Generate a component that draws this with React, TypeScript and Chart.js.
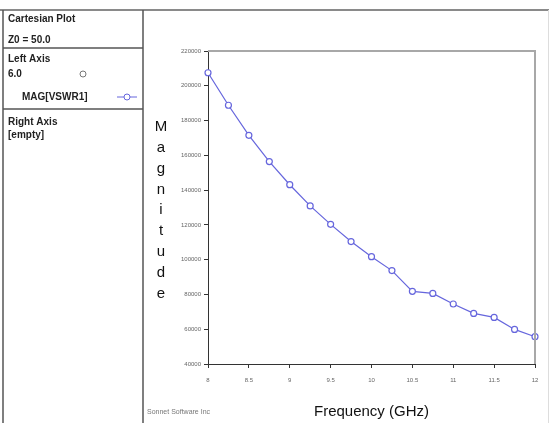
import React, { useEffect, useRef } from "react";
import { Chart, registerables } from "chart.js";

Chart.register(...registerables);

const frequencies = [8, 8.25, 8.5, 8.75, 9, 9.25, 9.5, 9.75, 10, 10.25, 10.5, 10.75, 11, 11.25, 11.5, 11.75, 12];
const magnitudes = [207500, 188800, 171500, 156400, 143100, 130900, 120300, 110400, 101700, 93700, 81800, 80600, 74500, 69100, 66800, 59900, 55700];
const yTicks = [40000, 60000, 80000, 100000, 120000, 140000, 160000, 180000, 200000, 220000];
const xTicks = [8, 8.5, 9, 9.5, 10, 10.5, 11, 11.5, 12];
const seriesName = "MAG[VSWR1]";
const yTitle = "Magnitude";
const xTitle = "Frequency (GHz)";

const LINE = "#6666dd";

const framePlugin = {
  id: "sonnetFrame",
  beforeDraw(chart: any) {
    const ctx = chart.ctx;
    ctx.save();
    ctx.fillStyle = "#ffffff";
    ctx.fillRect(0, 0, chart.width, chart.height);
    ctx.restore();
  },
  afterDraw(chart: any) {
    const ctx = chart.ctx;
    const a = chart.chartArea;
    ctx.save();
    ctx.strokeStyle = "#8a8a8a";
    ctx.lineWidth = 2;
    ctx.beginPath();
    ctx.moveTo(0, 10);
    ctx.lineTo(549, 10);
    ctx.stroke();
    ctx.lineWidth = 1.5;
    ctx.strokeStyle = "#555";
    ctx.beginPath();
    ctx.moveTo(3, 10);
    ctx.lineTo(3, 423);
    ctx.moveTo(143, 10);
    ctx.lineTo(143, 423);
    ctx.moveTo(3, 48);
    ctx.lineTo(143, 48);
    ctx.moveTo(3, 109);
    ctx.lineTo(143, 109);
    ctx.stroke();
    ctx.strokeStyle = "#dddddd";
    ctx.lineWidth = 1;
    ctx.beginPath();
    ctx.moveTo(548.5, 10);
    ctx.lineTo(548.5, 423);
    ctx.stroke();

    ctx.strokeStyle = "#a8a8a8";
    ctx.lineWidth = 2;
    ctx.beginPath();
    ctx.moveTo(a.left, a.top);
    ctx.lineTo(a.right, a.top);
    ctx.lineTo(a.right, a.bottom);
    ctx.stroke();

    ctx.fillStyle = "#222";
    ctx.textBaseline = "middle";
    ctx.textAlign = "left";
    ctx.font = "bold 10px 'Liberation Sans', Arial, sans-serif";
    ctx.fillText("Cartesian Plot", 8, 19);
    ctx.fillText("Z0 = 50.0", 8, 40);
    ctx.fillText("Left Axis", 8, 59);
    ctx.fillText("6.0", 8, 74);
    ctx.fillText(seriesName, 22, 97);
    ctx.fillText("Right Axis", 8, 122);
    ctx.fillText("[empty]", 8, 135);

    ctx.strokeStyle = "#777";
    ctx.lineWidth = 1;
    ctx.beginPath();
    ctx.arc(83, 74, 3, 0, Math.PI * 2);
    ctx.stroke();

    ctx.strokeStyle = LINE;
    ctx.beginPath();
    ctx.moveTo(117, 97);
    ctx.lineTo(124, 97);
    ctx.moveTo(130, 97);
    ctx.lineTo(137, 97);
    ctx.stroke();
    ctx.beginPath();
    ctx.arc(127, 97, 3, 0, Math.PI * 2);
    ctx.stroke();

    ctx.fillStyle = "#111";
    ctx.textAlign = "center";
    ctx.font = "15px 'Liberation Sans', Arial, sans-serif";
    const letters = yTitle.split("");
    letters.forEach((ch, i) => {
      ctx.fillText(ch, 161, 127 + i * 20.8);
    });
    ctx.fillText(xTitle, (a.left + a.right) / 2, 412);

    ctx.fillStyle = "#777";
    ctx.textAlign = "left";
    ctx.font = "7px 'Liberation Sans', Arial, sans-serif";
    ctx.fillText("Sonnet Software Inc", 147, 412);
    ctx.restore();
  },
};

export default function App() {
  const ref = useRef<HTMLCanvasElement | null>(null);
  useEffect(() => {
    document.body.style.margin = "0";
    const canvas = ref.current;
    if (!canvas) return;
    const chart = new Chart(canvas, {
      type: "line",
      data: {
        datasets: [
          {
            label: seriesName,
            data: frequencies.map((f, i) => ({ x: f, y: magnitudes[i] })),
            borderColor: LINE,
            borderWidth: 1.2,
            pointRadius: 3,
            pointBorderWidth: 1.2,
            pointBackgroundColor: "#ffffff",
            pointBorderColor: LINE,
            tension: 0,
            fill: false,
            clip: false,
          },
        ],
      },
      options: {
        animation: false,
        responsive: false,
        layout: { padding: { left: 150, top: 51, right: 14, bottom: 0 } },
        plugins: { legend: { display: false }, tooltip: { enabled: false } },
        scales: {
          x: {
            type: "linear",
            min: 8,
            max: 12,
            afterBuildTicks: (s: any) => {
              s.ticks = xTicks.map((v) => ({ value: v }));
            },
            afterFit: (s: any) => {
              s.height = 59;
            },
            grid: { drawOnChartArea: false, drawTicks: true, tickLength: 4, color: "#333" },
            border: { display: true, color: "#333", width: 1 },
            ticks: {
              font: { size: 6, family: "'Liberation Sans', Arial, sans-serif" },
              color: "#666",
              padding: 9,
              maxRotation: 0,
              callback: (v: any) => String(v),
            },
          },
          y: {
            type: "linear",
            min: 40000,
            max: 220000,
            afterBuildTicks: (s: any) => {
              s.ticks = yTicks.map((v) => ({ value: v }));
            },
            afterFit: (s: any) => {
              s.width = 58;
            },
            grid: { drawOnChartArea: false, drawTicks: true, tickLength: 4, color: "#333" },
            border: { display: true, color: "#333", width: 1 },
            ticks: {
              font: { size: 6, family: "'Liberation Sans', Arial, sans-serif" },
              color: "#666",
              padding: 3,
              callback: (v: any) => String(v),
            },
          },
        },
      },
      plugins: [framePlugin],
    });
    return () => chart.destroy();
  }, []);
  return (
    <div style={{ width: 549, height: 423 }}>
      <canvas ref={ref} width={549} height={423} style={{ display: "block", width: 549, height: 423 }} />
    </div>
  );
}
